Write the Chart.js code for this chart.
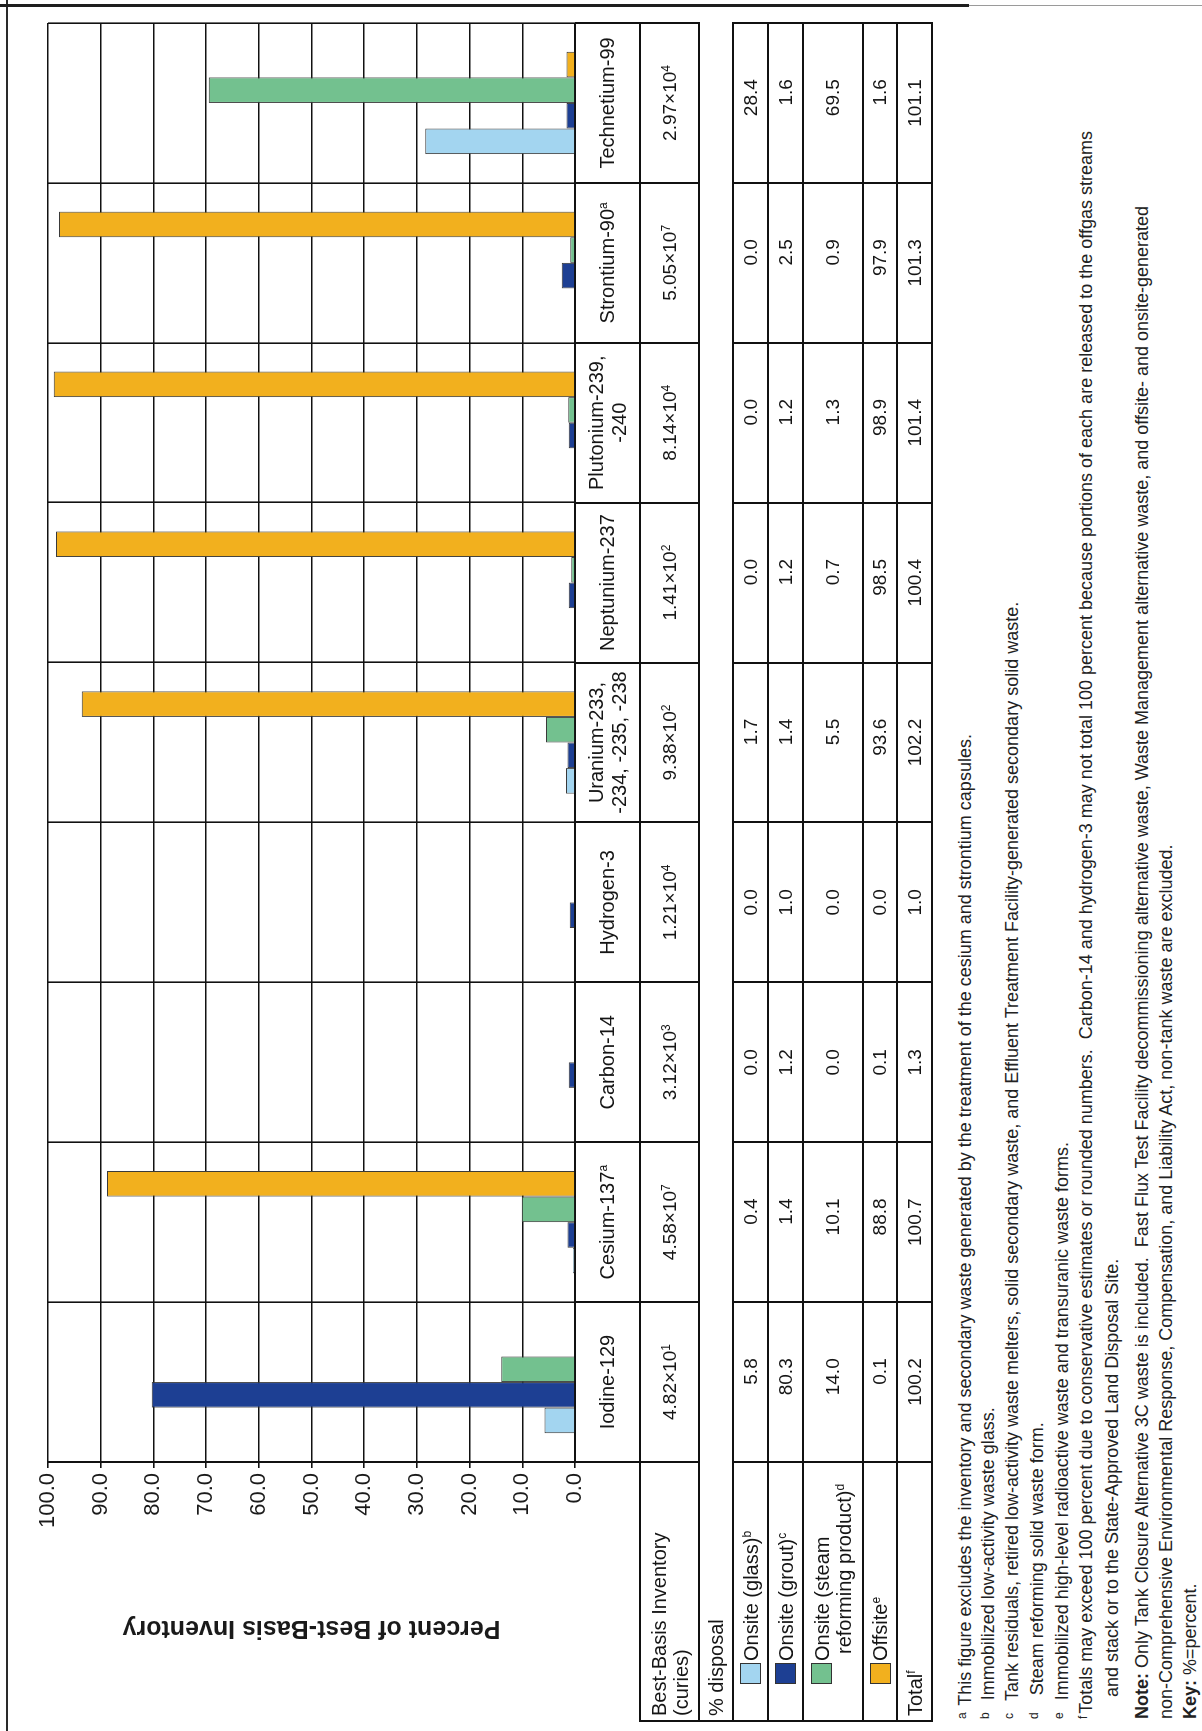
<!DOCTYPE html>
<html>
<head>
<meta charset="utf-8">
<title>Percent of Best-Basis Inventory</title>
<script src="https://cdn.jsdelivr.net/npm/chart.js@4.4.1/dist/chart.umd.min.js"></script>
<style>
  html, body { margin: 0; padding: 0; background: #fff; }
  body { width: 1202px; height: 1731px; overflow: hidden; position: relative; }
  /* the figure is laid out landscape, then turned to sit on a portrait page */
  #page {
    position: absolute; left: 0; top: 0; width: 1731px; height: 1202px;
    transform-origin: 0 0; transform: translate(0, 1731px) rotate(-90deg);
    font-family: "Liberation Sans", Arial, sans-serif; color: #151515;
  }
  #chart { position: absolute; left: 0; top: 0; }
  .ln { position: absolute; background: #111; }
  .cell { position: absolute; display: flex; align-items: center; box-sizing: border-box; white-space: nowrap; }
  .name { justify-content: center; text-align: center; font-size: 20px; line-height: 23px; }
  .inv { justify-content: center; font-size: 19px; }
  .num { justify-content: flex-end; font-size: 19px; }
  .head { font-size: 20px; line-height: 22px; padding-left: 5px; }
  .sw { position: absolute; left: 37px; width: 19px; height: 19px; border: 1px solid #333; }
  sup { font-size: 12px; vertical-align: top; position: relative; top: -4px; }
  .fn { position: absolute; left: 12px; font-size: 18px; line-height: 22px; white-space: nowrap; color: #222; }
  .fn sup { font-size: 12px; top: -3px; margin-right: 2px; }
</style>
</head>
<body>
<div id="page">
  <canvas id="chart" width="1731" height="600"></canvas>
</div>
<script>
const nuclides = ['Iodine-129', 'Cesium-137', 'Carbon-14', 'Hydrogen-3', 'Uranium-233,\n-234, -235, -238',
  'Neptunium-237', 'Plutonium-239,\n-240', 'Strontium-90', 'Technetium-99'];
const nuclideNotes = ['', 'a', '', '', '', '', '', 'a', ''];
const inventoryBase = ['4.82', '4.58', '3.12', '1.21', '9.38', '1.41', '8.14', '5.05', '2.97'];
const inventoryExp = [1, 7, 3, 4, 2, 2, 4, 7, 4];

const seriesNames = ['Onsite (glass)', 'Onsite (grout)', 'Onsite (steam reforming product)', 'Offsite'];
const seriesNotes = ['b', 'c', 'd', 'e'];
const seriesColors = ['#a3d5f0', '#1d3f93', '#73c18f', '#f2b01e'];

const onsiteGlass = [5.8, 0.4, 0.0, 0.0, 1.7, 0.0, 0.0, 0.0, 28.4];
const onsiteGrout = [80.3, 1.4, 1.2, 1.0, 1.4, 1.2, 1.2, 2.5, 1.6];
const onsiteSteam = [14.0, 10.1, 0.0, 0.0, 5.5, 0.7, 1.3, 0.9, 69.5];
const offsite = [0.1, 88.8, 0.1, 0.0, 93.6, 98.5, 98.9, 97.9, 1.6];
const totals = [100.2, 100.7, 1.3, 1.0, 102.2, 100.4, 101.4, 101.3, 101.1];

const percentTicks = [0, 10, 20, 30, 40, 50, 60, 70, 80, 90, 100];

// table row edges (landscape coordinates, px)
const ROW_NAME = [575, 640], ROW_INV = [640, 699], ROW_DISP = [699, 733];
const ROW_SERIES = [[733, 768], [768, 803], [803, 863], [863, 897]];
const ROW_TOTAL = [897, 932];
const HEAD_LEFT = 10;

const seriesValues = [onsiteGlass, onsiteGrout, onsiteSteam, offsite];

const chart = new Chart(document.getElementById('chart').getContext('2d'), {
  type: 'bar',
  data: {
    labels: nuclides.map(n => n.replace('\n', ' ')),
    datasets: seriesNames.map((name, i) => ({
      label: name,
      data: seriesValues[i],
      backgroundColor: seriesColors[i],
      borderColor: '#3a3a3a',
      borderWidth: 1,
      categoryPercentage: 0.64,
      barPercentage: 1
    }))
  },
  options: {
    responsive: false,
    animation: false,
    devicePixelRatio: 1,
    layout: { padding: { left: 0, right: 23, top: 48, bottom: 0 } },
    plugins: { legend: { display: false }, tooltip: { enabled: false } },
    scales: {
      x: {
        ticks: { display: false },
        grid: { color: '#111', lineWidth: 1.6, drawTicks: false, offset: true },
        border: { color: '#111', width: 2 },
        afterFit: s => { s.height = 25; }
      },
      y: {
        min: 0, max: 100,
        afterBuildTicks: s => { s.ticks = percentTicks.map(v => ({ value: v })); },
        ticks: { callback: v => v.toFixed(1), color: '#1a1a1a', font: { size: 22, family: '"Liberation Sans", Arial' }, padding: 5 },
        grid: { color: '#111', lineWidth: 1.6, tickLength: 6 },
        border: { color: '#111', width: 2 },
        title: {
          display: true, text: 'Percent of Best-Basis Inventory', color: '#1a1a1a',
          font: { size: 25, weight: 'bold', family: '"Liberation Sans", Arial' },
          padding: { top: 88, bottom: 0 }
        },
        afterFit: s => { s.width = 269; }
      }
    }
  }
});

const page = document.getElementById('page');
function addLine(u, v, w, h, color) {
  const d = document.createElement('div');
  d.className = 'ln';
  Object.assign(d.style, { left: u + 'px', top: v + 'px', width: w + 'px', height: h + 'px' });
  if (color) d.style.background = color;
  page.appendChild(d);
}
function addCell(cls, html, u, v, w, h) {
  const d = document.createElement('div');
  d.className = 'cell ' + cls;
  Object.assign(d.style, { left: u + 'px', top: v + 'px', width: w + 'px', height: h + 'px' });
  d.innerHTML = html;
  page.appendChild(d);
  return d;
}

const area = chart.chartArea;
const n = nuclides.length;
const band = (area.right - area.left) / n;
const edge = k => area.left + k * band;

// table grid
[ROW_INV[0], ROW_DISP[0], ROW_DISP[1], ROW_SERIES[1][0], ROW_SERIES[2][0], ROW_SERIES[3][0], ROW_TOTAL[0], ROW_TOTAL[1]]
  .forEach(v => addLine(HEAD_LEFT - 1, v - 1, area.right - HEAD_LEFT + 2, 2));
for (let k = 0; k <= n; k++) {
  addLine(edge(k) - 1, ROW_NAME[0], 2, ROW_DISP[0] - ROW_NAME[0]);
  addLine(edge(k) - 1, ROW_DISP[1], 2, ROW_TOTAL[1] - ROW_DISP[1]);
}
addLine(HEAD_LEFT - 1, ROW_INV[0] - 1, 2, ROW_TOTAL[1] - ROW_INV[0] + 2);

// page frame
addLine(0, 6, 1731, 2, '#2a2a2a');
addLine(1724, 0, 3, 969, '#1e1e1e');
addLine(1725, 969, 1, 233, '#9a9a9a');

// row headers
const headW = area.left - HEAD_LEFT;
addCell('head', 'Best-Basis Inventory<br>(curies)', HEAD_LEFT, ROW_INV[0], headW, ROW_INV[1] - ROW_INV[0]);
addCell('head', '% disposal', HEAD_LEFT, ROW_DISP[0], headW, ROW_DISP[1] - ROW_DISP[0]);
seriesNames.forEach((name, i) => {
  const [v0, v1] = ROW_SERIES[i];
  let label = name;
  if (name.indexOf('(steam') >= 0) label = 'Onsite (steam<br><span style="padding-left:7px">reforming product)</span>';
  const c = addCell('head', '<div style="padding-left:55px">' + label + '<sup>' + seriesNotes[i] + '</sup></div>',
    HEAD_LEFT, v0, headW, v1 - v0);
  const sw = document.createElement('div');
  sw.className = 'sw';
  sw.style.background = seriesColors[i];
  sw.style.top = (v1 - v0 > 40 ? 8 : (v1 - v0 - 21) / 2) + 'px';
  c.appendChild(sw);
});
addCell('head', 'Total<sup>f</sup>', HEAD_LEFT, ROW_TOTAL[0], headW, ROW_TOTAL[1] - ROW_TOTAL[0]);

// nuclide columns
const meas = document.createElement('canvas').getContext('2d');
meas.font = '19px "Liberation Sans"';
nuclides.forEach((name, i) => {
  const left = edge(i);
  const mid = chart.scales.x.getPixelForValue(i);
  const note = nuclideNotes[i] ? '<sup>' + nuclideNotes[i] + '</sup>' : '';
  addCell('name', '<div>' + name.replace('\n', '<br>') + note + '</div>', left, ROW_NAME[0], band, ROW_NAME[1] - ROW_NAME[0]);
  addCell('inv', inventoryBase[i] + '×10<sup>' + inventoryExp[i] + '</sup>', left, ROW_INV[0], band, ROW_INV[1] - ROW_INV[0]);
  const colVals = seriesValues.map(s => s[i]).concat([totals[i]]).map(v => v.toFixed(1));
  const maxW = Math.max(...colVals.map(s => meas.measureText(s).width));
  const w = mid + maxW / 2 - left;
  const rows = ROW_SERIES.concat([ROW_TOTAL]);
  colVals.forEach((s, r) => addCell('num', s, left, rows[r][0], w, rows[r][1] - rows[r][0]));
});

// footnotes
const notes = [
  [965, '<sup>a</sup> This figure excludes the inventory and secondary waste generated by the treatment of the cesium and strontium capsules.'],
  [988, '<sup>b</sup> &nbsp;Immobilized low-activity waste glass.'],
  [1012, '<sup>c</sup> &nbsp;Tank residuals, retired low-activity waste melters, solid secondary waste, and Effluent Treatment Facility-generated secondary solid waste.'],
  [1037, '<sup>d</sup> &nbsp;&nbsp;Steam reforming solid waste form.'],
  [1062, '<sup>e</sup> &nbsp;Immobilized high-level radioactive waste and transuranic waste forms.'],
  [1086, '<sup>f</sup>Totals may exceed 100 percent due to conservative estimates or rounded numbers.&nbsp; Carbon-14 and hydrogen-3 may not total 100 percent because portions of each are released to the offgas streams'],
  [1112, '<span style="padding-left:22px">and stack or to the State-Approved Land Disposal Site.</span>'],
  [1142, '<b>Note:</b> Only Tank Closure Alternative 3C waste is included.&nbsp; Fast Flux Test Facility decommissioning alternative waste, Waste Management alternative waste, and offsite- and onsite-generated'],
  [1166, 'non-Comprehensive Environmental Response, Compensation, and Liability Act, non-tank waste are excluded.'],
  [1190, '<b>Key:</b> %=percent.']
];
notes.forEach(([v, html]) => {
  const d = document.createElement('div');
  d.className = 'fn';
  d.style.top = (v - 11) + 'px';
  d.innerHTML = html;
  page.appendChild(d);
});
</script>
</body>
</html>
